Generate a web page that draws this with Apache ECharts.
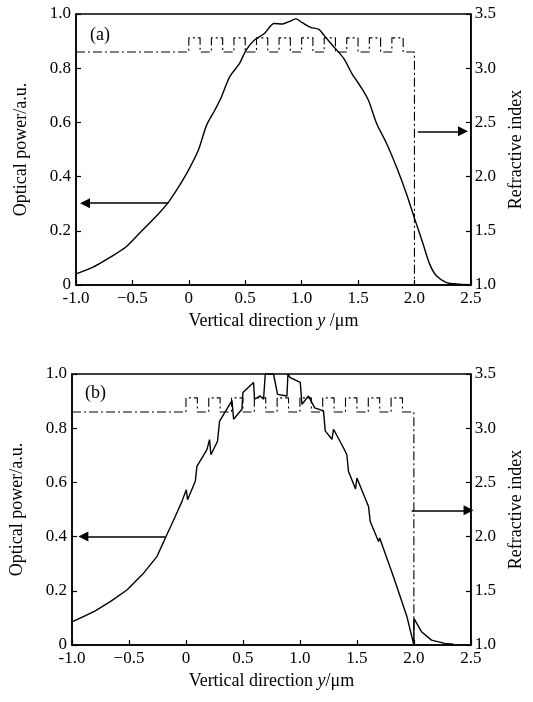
<!DOCTYPE html>
<html>
<head>
<meta charset="utf-8">
<script src="https://cdn.jsdelivr.net/npm/echarts@6/dist/echarts.min.js"></script>
<style>
  html, body { margin: 0; padding: 0; background: #fff; }
  #chart { width: 533px; height: 702px; }
</style>
</head>
<body>
<div id="chart"></div>
<script>
// tick labels
const xLabels = ['-1.0', '\u22120.5', '0', '0.5', '1.0', '1.5', '2.0', '2.5'];
const powerLabels = ['0', '0.2', '0.4', '0.6', '0.8', '1.0'];
const indexLabels = ['1.0', '1.5', '2.0', '2.5', '3.0', '3.5'];

// (a) optical power
const aX = [-1.0, -0.854, -0.707, -0.561, -0.414, -0.268, -0.18, -0.092, -0.004, 0.084, 0.157, 0.23, 0.289, 0.362, 0.45, 0.508, 0.582, 0.67, 0.757, 0.831, 0.889, 0.948, 1.006, 1.08, 1.153, 1.197, 1.285, 1.373, 1.446, 1.534, 1.592, 1.665, 1.753, 1.841, 1.929, 2.002, 2.076, 2.134, 2.193, 2.28, 2.37, 2.5];
const aPower = [0.041, 0.065, 0.10, 0.139, 0.201, 0.263, 0.306, 0.361, 0.423, 0.497, 0.589, 0.645, 0.694, 0.768, 0.818, 0.867, 0.904, 0.928, 0.965, 0.963, 0.972, 0.982, 0.968, 0.951, 0.943, 0.922, 0.879, 0.836, 0.78, 0.725, 0.682, 0.596, 0.522, 0.435, 0.337, 0.244, 0.152, 0.078, 0.035, 0.01, 0.004, 0.001];

// (b) optical power
const bX = [-1.0, -0.9, -0.8, -0.664, -0.518, -0.372, -0.255, -0.182, -0.094, -0.035, 0.003, 0.014, 0.082, 0.096, 0.184, 0.207, 0.219, 0.277, 0.295, 0.404, 0.418, 0.491, 0.5, 0.593, 0.602, 0.652, 0.681, 0.696, 0.768, 0.804, 0.886, 0.895, 0.915, 1.003, 1.018, 1.075, 1.13, 1.207, 1.222, 1.281, 1.295, 1.382, 1.412, 1.426, 1.488, 1.5, 1.602, 1.617, 1.69, 1.70, 1.821, 1.939, 2.0, 2.0, 2.067, 2.155, 2.27, 2.35];
const bPower = [0.085, 0.105, 0.125, 0.16, 0.203, 0.265, 0.326, 0.394, 0.474, 0.53, 0.573, 0.536, 0.604, 0.659, 0.721, 0.758, 0.702, 0.752, 0.826, 0.902, 0.833, 0.87, 0.932, 0.969, 0.907, 0.919, 0.907, 1.0, 1.0, 0.925, 0.919, 1.0, 0.987, 0.969, 0.888, 0.919, 0.875, 0.864, 0.79, 0.759, 0.796, 0.728, 0.702, 0.641, 0.576, 0.616, 0.511, 0.456, 0.382, 0.395, 0.252, 0.105, 0.0, 0.098, 0.049, 0.018, 0.006, 0.003];

// refractive index profile (same for a and b), value holds until next edge
const layerX = [-1.0, 0.0, 0.1, 0.2, 0.3, 0.4, 0.5, 0.6, 0.7, 0.8, 0.9, 1.0, 1.1, 1.2, 1.3, 1.4, 1.5, 1.6, 1.7, 1.8, 1.9, 2.0];
const layerN = [3.15, 3.28, 3.15, 3.28, 3.15, 3.28, 3.15, 3.28, 3.15, 3.28, 3.15, 3.28, 3.15, 3.28, 3.15, 3.28, 3.15, 3.28, 3.15, 3.28, 3.15, 1.0];

const zip = (xs, ys) => xs.map((x, i) => [x, ys[i]]);

var chartDom = document.getElementById('chart');
var myChart = echarts.init(chartDom, null, { renderer: 'canvas' });

const font = 'Liberation Serif, Times New Roman, serif';
const labelStyle = { color: '#000', fontFamily: font, fontSize: 17 };

const fromList = (list, min, step) => v => list[Math.round((v - min) / step)] || '';

const xAxisBase = (gridIndex, nameText) => ({
  type: 'value', gridIndex: gridIndex,
  min: -1, max: 2.5, interval: 0.5,
  name: nameText, nameLocation: 'middle', nameGap: 27,
  nameTextStyle: {
    rich: {
      a: { fontFamily: font, fontSize: 18, color: '#000' },
      i: { fontFamily: font, fontSize: 18, color: '#000', fontStyle: 'italic' }
    }
  },
  axisLine: { onZero: false, lineStyle: { color: '#000', width: 1.5 } },
  axisTick: { inside: true, length: 5, lineStyle: { color: '#000', width: 1.2 } },
  axisLabel: Object.assign({ margin: 5, formatter: fromList(xLabels, -1, 0.5) }, labelStyle),
  splitLine: { show: false }
});

const powerAxis = gridIndex => ({
  type: 'value', gridIndex: gridIndex, position: 'left',
  min: 0, max: 1, interval: 0.2,
  name: 'Optical power/a.u.', nameLocation: 'middle', nameGap: 46, nameRotate: 90,
  nameTextStyle: { fontFamily: font, fontSize: 18, color: '#000' },
  axisLine: { show: true, onZero: false, lineStyle: { color: '#000', width: 1.5 } },
  axisTick: { inside: true, length: 5, lineStyle: { color: '#000', width: 1.2 } },
  axisLabel: Object.assign({ margin: 5, formatter: fromList(powerLabels, 0, 0.2) }, labelStyle),
  splitLine: { show: false }
});

const indexAxis = gridIndex => ({
  type: 'value', gridIndex: gridIndex, position: 'right',
  min: 1, max: 3.5, interval: 0.5,
  name: 'Refractive index', nameLocation: 'middle', nameGap: 34, nameRotate: 90,
  nameTextStyle: { fontFamily: font, fontSize: 18, color: '#000' },
  axisLine: { show: true, onZero: false, lineStyle: { color: '#000', width: 1.5 } },
  axisTick: { inside: true, length: 5, lineStyle: { color: '#000', width: 1.2 } },
  axisLabel: Object.assign({ margin: 4, formatter: fromList(indexLabels, 1, 0.5) }, labelStyle),
  splitLine: { show: false }
});

const arrows = list => ({
  silent: true,
  symbol: ['none', 'triangle'],
  symbolSize: 10,
  label: { show: false },
  lineStyle: { color: '#000', width: 1.5, type: 'solid' },
  itemStyle: { color: '#000' },
  data: list.map(a => [{ coord: a[0] }, { coord: a[1] }])
});

const curve = (idx, data, arrowList, smooth) => ({
  type: 'line', xAxisIndex: idx, yAxisIndex: idx * 2,
  data: data, symbol: 'none', smooth: smooth, animation: false,
  lineStyle: { color: '#000', width: 1.4 },
  markLine: arrows(arrowList)
});

const profile = idx => ({
  type: 'line', xAxisIndex: idx, yAxisIndex: idx * 2 + 1,
  data: zip(layerX, layerN), step: 'end', symbol: 'none', animation: false,
  lineStyle: { color: '#000', width: 1.1, type: [9, 3, 2, 3] }
});

option = {
  backgroundColor: '#fff',
  animation: false,
  title: [
    { text: '(a)', left: 85, top: 21, textStyle: { fontFamily: font, fontSize: 18, fontWeight: 'normal', color: '#000' } },
    { text: '(b)', left: 80, top: 379, textStyle: { fontFamily: font, fontSize: 18, fontWeight: 'normal', color: '#000' } }
  ],
  grid: [
    { left: 76, top: 14, width: 399, height: 271, show: true, borderColor: '#000', borderWidth: 1.5 },
    { left: 72, top: 374, width: 399, height: 271, show: true, borderColor: '#000', borderWidth: 1.5 }
  ],
  xAxis: [
    xAxisBase(0, '{a|Vertical direction }{i|y}{a| /\u03bcm}'),
    xAxisBase(1, '{a|Vertical direction }{i|y}{a|/\u03bcm}')
  ],
  yAxis: [powerAxis(0), indexAxis(0), powerAxis(1), indexAxis(1)],
  series: [
    curve(0, zip(aX, aPower), [[[-0.18, 0.302], [-0.92, 0.302]], [[2.03, 0.567], [2.43, 0.567]]], 0.3),
    profile(0),
    curve(1, zip(bX, bPower), [[[-0.18, 0.4], [-0.9, 0.4]], [[1.98, 0.497], [2.48, 0.497]]], false),
    profile(1)
  ]
};

option && myChart.setOption(option);
</script>
</body>
</html>
